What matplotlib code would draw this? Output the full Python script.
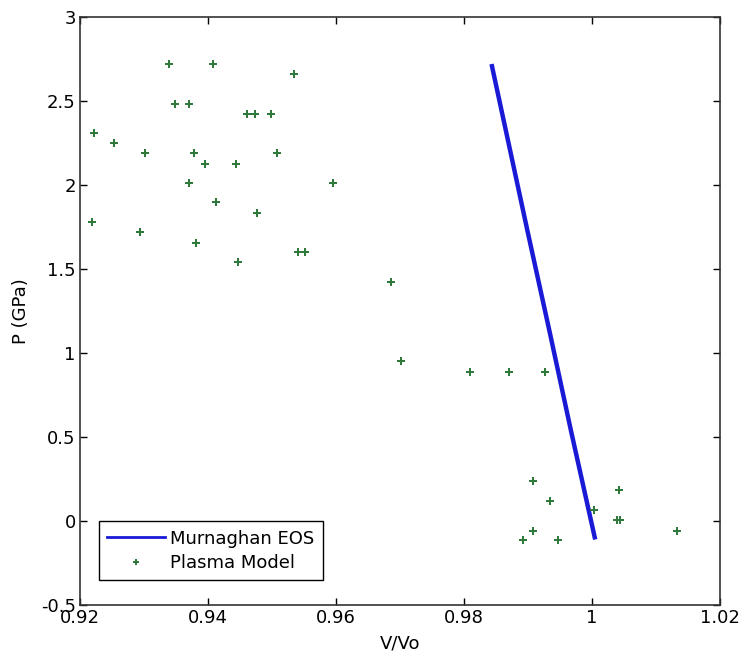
import matplotlib
matplotlib.use("Agg")
import matplotlib.pyplot as plt
from matplotlib.lines import Line2D

plt.rcParams['font.family'] = ['DejaVu Sans']

# Murnaghan EOS curve
eos_v = [0.9843, 0.9899, 0.9933, 0.9967, 1.0005]
eos_p = [2.72, 1.73, 1.14, 0.54, -0.11]

# Plasma model points
plasma_v = [0.9339, 0.9408, 0.9534, 0.9348, 0.9370, 0.9461, 0.9473, 0.9499,
            0.9222, 0.9253, 0.9302, 0.9378, 0.9508, 0.9396, 0.9443, 0.9370,
            0.9595, 0.9412, 0.9477, 0.9219, 0.9294, 0.9382, 0.9541, 0.9552,
            0.9447, 0.9686, 0.9702, 0.9809, 0.9870, 0.9926,
            0.9908, 0.9935, 1.0003, 1.0042, 1.0039, 1.0043, 0.9908, 0.9892,
            0.9947, 1.0133]
plasma_p = [2.718, 2.718, 2.663, 2.484, 2.484, 2.423, 2.423, 2.423,
            2.308, 2.252, 2.189, 2.189, 2.189, 2.127, 2.127, 2.012,
            2.012, 1.897, 1.835, 1.780, 1.718, 1.657, 1.601, 1.601,
            1.540, 1.423, 0.951, 0.887, 0.887, 0.887,
            0.238, 0.121, 0.067, 0.183, 0.004, 0.004, -0.058, -0.111,
            -0.111, -0.058]

xticks = [0.92, 0.94, 0.96, 0.98, 1.0, 1.02]
xticklabels = ['0.92', '0.94', '0.96', '0.98', '1', '1.02']
yticks = [-0.5, 0, 0.5, 1, 1.5, 2, 2.5, 3]
yticklabels = ['-0.5', '0', '0.5', '1', '1.5', '2', '2.5', '3']

fig = plt.figure(figsize=(7.42, 6.61), dpi=100)
ax = fig.add_axes([80/742, 1 - 605/661, 640/742, 588/661])

ax.plot(eos_v, eos_p, color='#1a1ad6', linewidth=3.2, solid_capstyle='butt')
ax.plot(plasma_v, plasma_p, linestyle='none', marker='P', markersize=6,
        color='#2f7a3a', markeredgewidth=0)

ax.set_xlim(0.92, 1.02)
ax.set_ylim(-0.5, 3)
ax.set_xticks(xticks)
ax.set_xticklabels(xticklabels)
ax.set_yticks(yticks)
ax.set_yticklabels(yticklabels)
ax.tick_params(direction='in', top=True, right=True, length=5, width=1,
               labelsize=13, pad=3, colors='black')
for s in ax.spines.values():
    s.set_linewidth(1.2)
    s.set_color('#333333')

ax.set_xlabel('V/Vo', fontsize=13, labelpad=5)
ax.set_ylabel('P (GPa)', fontsize=13, labelpad=8)

handles = [Line2D([], [], color='#1a1ad6', linewidth=2),
           Line2D([], [], linestyle='none', marker='P', markersize=5,
                  color='#2f7a3a', markeredgewidth=0)]
leg = ax.legend(handles, ['Murnaghan EOS', 'Plasma Model'],
                loc='lower left', bbox_to_anchor=(19/640, 25/588),
                borderaxespad=0, fontsize=13, fancybox=False,
                edgecolor='black', framealpha=1, handlelength=3.2,
                handletextpad=0.3, labelspacing=0.35, borderpad=0.45)
leg.get_frame().set_linewidth(1.0)

fig.savefig('out.png', dpi=100)
